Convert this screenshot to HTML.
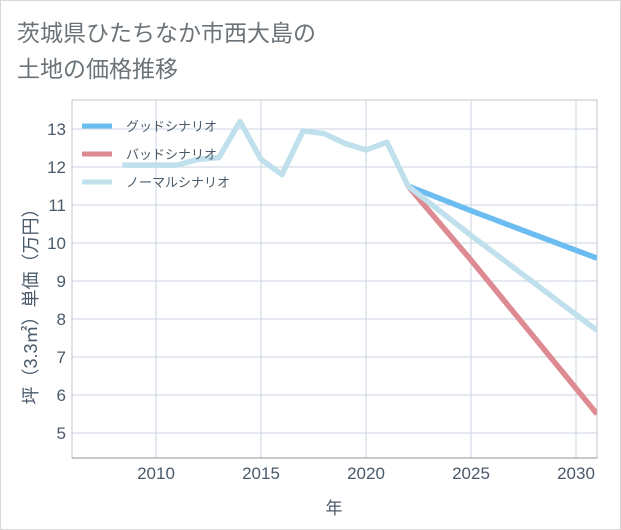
<!DOCTYPE html>
<html><head><meta charset="utf-8"><style>
body{margin:0;background:#fff;}
#wrap{position:relative;width:619px;height:528px;border:1px solid #d8d8d8;background:#fff;overflow:hidden;}
.t{font-family:"Liberation Sans","Noto Sans CJK JP",sans-serif;}
</style></head><body>
<div id="wrap">
<svg id="svg" width="621" height="530" xmlns="http://www.w3.org/2000/svg" style="position:absolute;left:-1px;top:-1px">
<g>
<text class="t" x="17" y="41" font-size="23" fill="#6b7378">茨城県ひたちなか市西大島の</text>
<text class="t" x="17" y="77" font-size="23" fill="#6b7378">土地の価格推移</text>
</g>
<g id="plot"></g>
</svg>
</div>
<script>
const years=[2008.4,2011,2012,2013,2014,2015,2016,2017,2018,2019,2020,2021,2022];
const normalHist=[12.05,12.05,12.2,12.25,13.2,12.2,11.8,12.95,12.88,12.62,12.45,12.65,11.5];
const projYears=[2022,2025,2031];
const goodVals=[11.5,10.85,9.6];
const badVals=[11.5,9.55,5.5];
const normVals=[11.5,10.2,7.7];
const xTicks=[2010,2015,2020,2025,2030];
const yTicks=[5,6,7,8,9,10,11,12,13];
const X0=72,X1=597,Y0=100,Y1=458;
const xs=y=>156+(y-2010)*21;
const ys=v=>433-(v-5)*38;
const ns="http://www.w3.org/2000/svg";
const plot=document.getElementById('plot');
function mk(tag,attrs,parent){const e=document.createElementNS(ns,tag);for(const k in attrs)e.setAttribute(k,attrs[k]);(parent||plot).appendChild(e);return e;}
const bg=mk('rect',{x:X0,y:Y0,width:X1-X0,height:Y1-Y0,fill:'#fff',stroke:'#c0c6cc'});


for(const v of xTicks){const l=mk('line',{x1:xs(v),x2:xs(v),y1:Y0,y2:Y1,stroke:'#cbd6e2'});


const t=mk('text',{x:xs(v),y:479,'text-anchor':'middle','font-size':17,fill:'#4a5a6a',class:'t'});t.textContent=v;

}
for(const v of yTicks){const l=mk('line',{x1:X0,x2:X1,y1:ys(v),y2:ys(v),stroke:'#cbd6e2'});


const t=mk('text',{x:66,y:ys(v)+6,'text-anchor':'end','font-size':17,fill:'#4a5a6a',class:'t'});t.textContent=v;

}
const xa=mk('line',{x1:X0,x2:X1,y1:Y1,y2:Y1,stroke:'#8a949e'});


const xt=mk('text',{x:334,y:514,'text-anchor':'middle','font-size':17,fill:'#4a5a6a',class:'t'});xt.textContent='年';


const yt=mk('text',{x:0,y:0,'text-anchor':'middle','font-size':18,fill:'#4a5a6a',class:'t',transform:'translate(37,302) rotate(-90)'});yt.textContent='坪（3.3㎡）単価（万円）';


const cp=mk('clipPath',{id:'cp'});mk('rect',{x:X0,y:Y0,width:X1-X0,height:Y1-Y0},cp);
function line(xv,yv,color,name){const d=xv.map((x,i)=>(i?'L':'M')+xs(x)+','+ys(yv[i])).join(' ');
const p=mk('path',{d:d,fill:'none',stroke:color,'stroke-width':5.5,'stroke-linejoin':'round','clip-path':'url(#cp)'});

}
line(projYears,goodVals,'#6bbcf0','good-scenario-line');
line(projYears,badVals,'#de8a92','bad-scenario-line');
line(projYears,normVals,'#bfe0ec','normal-scenario-line');
line(years,normalHist,'#bfe0ec','historical-line');
const leg=[['グッドシナリオ','#6bbcf0'],['バッドシナリオ','#de8a92'],['ノーマルシナリオ','#bfe0ec']];
leg.forEach((e,i)=>{const y=126+i*28;
const g=mk('g',{});


mk('line',{x1:82,x2:112,y1:y,y2:y,stroke:e[1],'stroke-width':5},g);
const t=mk('text',{x:126,y:y+5,'font-size':13,fill:'#4a5a6a',class:'t'},g);t.textContent=e[0];});
</script>
</body></html>
